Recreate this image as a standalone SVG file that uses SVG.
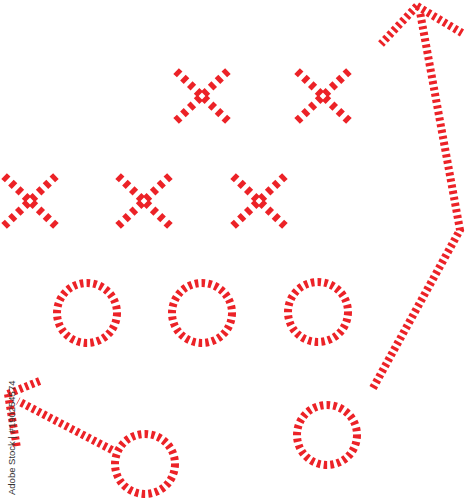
<svg xmlns="http://www.w3.org/2000/svg" width="466" height="500" viewBox="0 0 466 500">
<style>
.arm{stroke:#ec2227;stroke-width:8;fill:none;stroke-dasharray:5 4.5;stroke-dashoffset:7}
.ring{stroke:#ec2227;stroke-width:8;fill:none;stroke-dasharray:3.5 3.2}
.line{stroke:#ec2227;stroke-width:8;fill:none;stroke-dasharray:3.2 3}
.wm{font-family:"Liberation Sans",Arial,sans-serif;font-size:9.5px;fill:#333}
</style>
<defs>
<g id="xmark">
<line class="arm" x1="0" y1="0" x2="-28" y2="-27"/>
<line class="arm" x1="0" y1="0" x2="28" y2="-27"/>
<line class="arm" x1="0" y1="0" x2="-28" y2="27"/>
<line class="arm" x1="0" y1="0" x2="28" y2="27"/>
</g>
</defs>
<rect width="466" height="500" fill="#fff"/>
<g id="x1"><use href="#xmark" x="202" y="96"/></g>
<g id="x2"><use href="#xmark" x="323" y="96"/></g>
<g id="x3"><use href="#xmark" x="30" y="201"/></g>
<g id="x4"><use href="#xmark" x="144" y="201"/></g>
<g id="x5"><use href="#xmark" x="259" y="201"/></g>
<g id="o1"><circle class="ring" cx="87" cy="313" r="30"/></g>
<g id="o2"><circle class="ring" cx="202" cy="313" r="30"/></g>
<g id="o3"><circle class="ring" cx="318" cy="312" r="30"/></g>
<g id="o4"><circle class="ring" cx="327" cy="435" r="30"/></g>
<g id="o5"><circle class="ring" cx="145" cy="464" r="30"/></g>
<g id="connectors">
<polyline class="line" points="373,388 460,230 420,12"/>
<line class="line" x1="417" y1="6" x2="381" y2="44"/>
<line class="line" x1="417" y1="6" x2="462" y2="33"/>
<line class="line" x1="112" y1="450" x2="18" y2="401"/>
<line class="line" x1="8" y1="394" x2="42" y2="380"/>
<line class="line" x1="8" y1="394" x2="17" y2="448"/>
</g>
<text class="wm" transform="translate(15,495) rotate(-90)">Adobe Stock | #190254574</text>
</svg>
